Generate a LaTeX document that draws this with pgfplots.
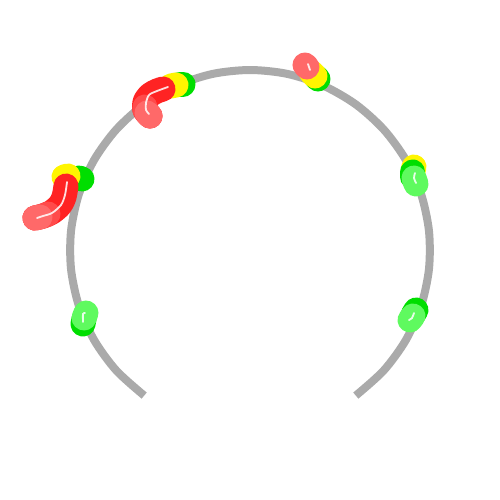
\documentclass[border=0pt]{standalone}
\usepackage{pgfplots}
\pgfplotsset{compat=1.18}

\definecolor{arcgray}{RGB}{170,170,170}
\definecolor{gdark}{RGB}{0,222,0}
\definecolor{glight}{RGB}{95,250,95}
\definecolor{yel}{RGB}{255,245,0}
\definecolor{rd}{RGB}{255,35,35}
\definecolor{rdmid}{RGB}{255,75,75}
\definecolor{rdlight}{RGB}{255,105,105}

\begin{document}
\begin{tikzpicture}
\begin{axis}[
    width=250pt, height=250pt, scale only axis,
    xmin=-250, xmax=250, ymin=-250, ymax=250,
    hide axis, clip=false,
    worm/.style={line width=12.5pt, line cap=round, line join=round, no markers},
    shine/.style={line width=0.9pt, white, opacity=0.85, line cap=round, no markers, smooth},
  ]
  % keep the full square as the picture's extent
  \path (rel axis cs:0,0) rectangle (rel axis cs:1,1);

  % gauge track (radius 180, from 234 deg to -54 deg)
  \addplot[arcgray, line width=4pt, line cap=butt, smooth, no markers] coordinates {
    (-105.8,-145.6) (-133.8,-120.4) (-155.9,-90) (-171.2,-55.6) (-179.0,-18.8)
    (-179.0,18.8) (-171.2,55.6) (-155.9,90) (-133.8,120.4) (-105.8,145.6)
    (-73.2,164.4) (-37.4,176.1) (0,180) (37.4,176.1) (73.2,164.4)
    (105.8,145.6) (133.8,120.4) (155.9,90) (171.2,55.6) (179.0,18.8)
    (179.0,-18.8) (171.2,-55.6) (155.9,-90) (133.8,-120.4) (105.8,-145.6)};

  % lower right
  \addplot[worm, gdark] coordinates {(166,-60) (163,-65)};
  \addplot[worm, glight] coordinates {(163,-66) (160,-70)};
  \addplot[shine] coordinates {(164,-63) (162,-68) (159,-70)};

  % right
  \addplot[worm, yel] coordinates {(164,83) (163,79)};
  \addplot[worm, gdark] coordinates {(163,78) (163,73)};
  \addplot[worm, glight] coordinates {(164,72) (166,66)};
  \addplot[shine] coordinates {(165,77) (164,72) (166,67)};

  % top right
  \addplot[worm, gdark] coordinates {(68,171) (66,173)};
  \addplot[worm, yel] coordinates {(65,174) (61,178)};
  \addplot[worm, rdlight] coordinates {(57,183) (55,185)};
  \addplot[shine] coordinates {(58,186) (60,180)};

  % top
  \addplot[worm, gdark] coordinates {(-67,166) (-70,166)};
  \addplot[worm, yel] coordinates {(-74,165) (-79,164)};
  \addplot[worm, rd, smooth] coordinates {(-87,161) (-93,159) (-100,155) (-105,148) (-105,140) (-100,134)};
  \addplot[worm, rdmid, smooth] coordinates {(-105,143) (-105,140) (-100,134)};
  \addplot[worm, rdlight, smooth] coordinates {(-103,137) (-100,134)};
  \addplot[shine] coordinates {(-82,163) (-93,159) (-101,155) (-104,147) (-104,140) (-101,136)};

  % left
  \addplot[worm, gdark] coordinates {(-168,71) (-171,72)};
  \addplot[worm, yel] coordinates {(-182,74) (-186,73)};
  \addplot[worm, rd, smooth] coordinates {(-184,64) (-186,53) (-190,45) (-198,38) (-207,34) (-215,32)};
  \addplot[worm, rdmid, smooth] coordinates {(-202,36) (-207,34) (-215,32)};
  \addplot[worm, rdlight, smooth] coordinates {(-210,33) (-215,32)};
  \addplot[shine] coordinates {(-183,68) (-185,55) (-189,45) (-198,37) (-207,34) (-213,32)};

  % lower left
  \addplot[worm, gdark] coordinates {(-167,-74) (-166,-69)};
  \addplot[worm, glight] coordinates {(-166,-68) (-164,-63)};
  \addplot[shine] coordinates {(-165,-63) (-167,-64) (-167,-72)};
\end{axis}
\end{tikzpicture}
\end{document}
